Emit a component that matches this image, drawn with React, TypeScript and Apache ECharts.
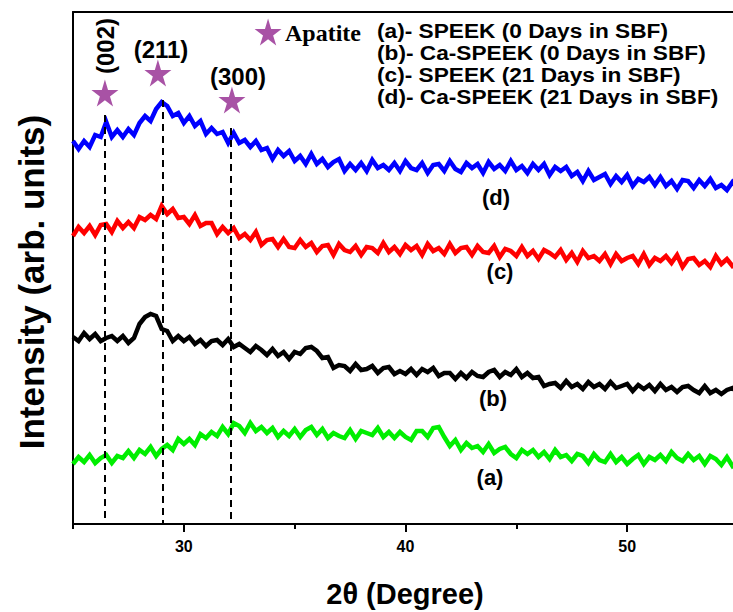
import React, { useEffect, useRef } from 'react';
import * as echarts from 'echarts';

// 2θ sampling positions (degrees)
const twoTheta: number[] = Array.from({ length: 121 }, (_, i) => 25 + i * 0.25);

// (a) SPEEK 0 days (green)
const seriesA = [
  60, 67, 62, 69, 61, 66, 69, 61, 68, 66,
  73, 66, 74, 70, 77, 68, 75, 79, 74, 85,
  80, 85, 79, 90, 86, 92, 88, 97, 90, 101,
  98, 91, 101, 93, 97, 91, 96, 87, 93, 88,
  95, 87, 94, 97, 89, 95, 86, 91, 88, 86,
  94, 85, 93, 91, 89, 96, 87, 92, 86, 92,
  87, 84, 93, 93, 87, 96, 97, 87, 78, 84,
  74, 81, 76, 78, 72, 80, 71, 75, 77, 70,
  66, 74, 70, 74, 67, 72, 65, 74, 67, 69,
  63, 70, 68, 61, 70, 64, 62, 70, 62, 67,
  60, 65, 69, 60, 67, 64, 69, 63, 72, 66,
  63, 70, 64, 68, 60, 68, 65, 59, 67, 58,
  62,
];

// (b) Ca-SPEEK 0 days (black)
const seriesB = [
  187, 183, 191, 185, 190, 183, 186, 188, 183, 188,
  181, 186, 200, 207, 210, 208, 195, 193, 183, 188,
  183, 187, 180, 184, 178, 183, 184, 179, 185, 177,
  180, 176, 172, 178, 174, 169, 175, 168, 172, 165,
  172, 170, 176, 177, 173, 166, 167, 156, 159, 158,
  153, 160, 154, 155, 158, 151, 156, 157, 150, 153,
  150, 155, 149, 155, 152, 156, 148, 151, 151, 145,
  151, 146, 152, 148, 147, 152, 154, 147, 152, 149,
  155, 147, 151, 146, 147, 138, 140, 141, 136, 143,
  137, 140, 135, 142, 137, 140, 135, 142, 136, 138,
  140, 133, 139, 135, 139, 133, 140, 134, 137, 132,
  137, 138, 134, 131, 138, 131, 134, 130, 134, 136,
  131,
];

// (c) SPEEK 21 days (red)
const seriesC = [
  288, 297, 291, 298, 289, 299, 300, 292, 303, 296,
  302, 296, 307, 304, 309, 305, 318, 310, 315, 306,
  307, 300, 309, 298, 301, 301, 290, 297, 291, 296,
  286, 290, 284, 292, 279, 284, 285, 277, 285, 277,
  276, 284, 277, 281, 272, 278, 279, 269, 280, 274,
  272, 278, 269, 277, 276, 271, 281, 272, 277, 270,
  279, 274, 278, 269, 280, 273, 276, 270, 280, 271,
  276, 277, 269, 278, 272, 271, 278, 267, 275, 273,
  268, 277, 268, 273, 265, 274, 271, 267, 274, 264,
  271, 262, 273, 266, 268, 263, 270, 260, 270, 263,
  266, 268, 260, 270, 259, 266, 263, 268, 261, 269,
  257, 265, 266, 259, 263, 257, 268, 260, 265, 258,
  261,
];

// (d) Ca-SPEEK 21 days (blue)
const seriesD = [
  383, 375, 383, 377, 389, 387, 402, 387, 394, 387,
  395, 389, 401, 408, 403, 415, 422, 418, 408, 411,
  401, 408, 398, 403, 390, 396, 390, 392, 381, 391,
  381, 384, 377, 383, 374, 376, 365, 374, 368, 373,
  363, 368, 360, 370, 360, 365, 357, 362, 365, 353,
  360, 354, 361, 353, 364, 356, 359, 354, 361, 353,
  363, 356, 354, 361, 351, 359, 360, 353, 363, 355,
  352, 361, 356, 360, 351, 362, 355, 359, 353, 363,
  354, 358, 351, 360, 354, 360, 349, 357, 353, 357,
  348, 352, 343, 353, 344, 347, 350, 340, 348, 342,
  349, 338, 345, 342, 347, 339, 347, 338, 343, 335,
  344, 343, 336, 344, 338, 345, 336, 339, 334, 342,
  336,
];

const seriesNames = ['(a)', '(b)', '(c)', '(d)'];
const seriesColors = ['#00EE00', '#000000', '#FF0000', '#0000FF'];

// Apatite reflections: dashed line positions, tops, star markers
const peakLabels = ['(002)', '(211)', '(300)'];
const peakAngles = [26.41, 29.05, 32.1];
const peakTops = [409, 424, 396];
const starPoints = [
  [26.44, 431],
  [28.83, 451],
  [32.17, 424],
];
const apatiteStar = [[33.8, 492]];

const legendLines = [
  '(a)- SPEEK (0 Days in SBF)',
  '(b)- Ca-SPEEK (0 Days in SBF)',
  '(c)- SPEEK (21 Days in SBF)',
  '(d)- Ca-SPEEK (21 Days in SBF)',
];

const xMajorTicks = [30, 40, 50];
const xMinorTicks = [25, 35, 45, 55];

const SANS = '"Liberation Sans", Arial, Helvetica, sans-serif';
const SERIF = '"Liberation Serif", "Times New Roman", serif';
const STAR = 'path://M50,0 L61,35 L98,35 L68,57 L79,91 L50,70 L21,91 L32,57 L2,35 L39,35 Z';
const PURPLE = '#92278F';

export default function App() {
  const ref = useRef<HTMLDivElement>(null);

  useEffect(() => {
    if (!ref.current) return;
    const chart = echarts.init(ref.current, null, { renderer: 'svg' });

    const allSeries = [seriesA, seriesB, seriesC, seriesD];
    const lineSeries = allSeries.map((vals, si) => ({
      name: seriesNames[si],
      type: 'line',
      xAxisIndex: 0,
      yAxisIndex: 0,
      showSymbol: false,
      symbol: 'none',
      data: twoTheta.map((t, i) => [t, vals[i]]),
      lineStyle: { color: seriesColors[si], width: 4.5, join: 'miter' },
      itemStyle: { color: seriesColors[si] },
      z: 2,
    }));

    const curveLabelPos = [
      [490, 477],
      [493, 398],
      [500, 271],
      [496, 197],
    ];

    const option: any = {
      animation: false,
      backgroundColor: '#ffffff',
      grid: {
        left: 73,
        top: 12,
        right: -5,
        bottom: 88,
        containLabel: false,
        outerBoundsMode: 'none',
        show: false,
      },
      xAxis: [
        {
          type: 'value',
          min: 25,
          max: 55,
          position: 'bottom',
          axisLine: { show: true, onZero: false, lineStyle: { color: '#000', width: 2 } },
          axisTick: {
            show: true,
            customValues: xMajorTicks,
            length: 8,
            inside: false,
            lineStyle: { color: '#000', width: 2 },
          },
          axisLabel: {
            show: true,
            customValues: xMajorTicks,
            margin: 14,
            fontSize: 16,
            fontWeight: 'bold',
            color: '#000',
            fontFamily: SANS,
          },
          splitLine: { show: false },
        },
        {
          type: 'value',
          min: 25,
          max: 55,
          position: 'bottom',
          axisLine: { show: false },
          axisTick: {
            show: true,
            customValues: xMinorTicks,
            length: 5,
            inside: false,
            lineStyle: { color: '#000', width: 2 },
          },
          axisLabel: { show: false },
          splitLine: { show: false },
        },
        {
          type: 'value',
          min: 25,
          max: 55,
          position: 'top',
          axisLine: { show: true, onZero: false, lineStyle: { color: '#000', width: 2 } },
          axisTick: { show: false },
          axisLabel: { show: false },
          splitLine: { show: false },
        },
      ],
      yAxis: {
        type: 'value',
        min: 0,
        max: 512,
        axisLine: { show: true, onZero: false, lineStyle: { color: '#000', width: 2 } },
        axisTick: { show: false },
        axisLabel: { show: false },
        splitLine: { show: false },
      },
      series: [
        ...lineSeries,
        {
          name: 'Apatite',
          type: 'scatter',
          xAxisIndex: 0,
          yAxisIndex: 0,
          symbol: STAR,
          symbolSize: 27,
          itemStyle: { color: PURPLE },
          data: starPoints,
          z: 5,
          markLine: {
            silent: true,
            symbol: ['none', 'none'],
            label: { show: false },
            lineStyle: { color: '#000', width: 2, type: [7, 5] },
            data: peakAngles.map((a, i) => [
              { coord: [a, peakTops[i]] },
              { coord: [a, 0] },
            ]),
          },
        },
        {
          name: 'ApatiteKey',
          type: 'scatter',
          xAxisIndex: 0,
          yAxisIndex: 0,
          symbol: STAR,
          symbolSize: 27,
          itemStyle: { color: PURPLE },
          data: apatiteStar,
          z: 5,
        },
      ],
      graphic: [
        {
          type: 'text',
          x: 31,
          y: 282,
          rotation: Math.PI / 2,
          style: {
            text: 'Intensity (arb. units)',
            font: `bold 35px ${SANS}`,
            fill: '#000',
            align: 'center',
            verticalAlign: 'middle',
          },
        },
        {
          type: 'text',
          x: 405,
          y: 594,
          style: {
            text: '2θ (Degree)',
            font: `bold 29px ${SANS}`,
            fill: '#000',
            align: 'center',
            verticalAlign: 'middle',
          },
        },
        {
          type: 'text',
          x: 105,
          y: 46,
          rotation: Math.PI / 2,
          style: {
            text: peakLabels[0],
            font: `bold 24px ${SANS}`,
            fill: '#000',
            align: 'center',
            verticalAlign: 'middle',
          },
        },
        {
          type: 'text',
          x: 161,
          y: 49,
          style: {
            text: peakLabels[1],
            font: `bold 24px ${SANS}`,
            fill: '#000',
            align: 'center',
            verticalAlign: 'middle',
          },
        },
        {
          type: 'text',
          x: 238,
          y: 76,
          style: {
            text: peakLabels[2],
            font: `bold 24px ${SANS}`,
            fill: '#000',
            align: 'center',
            verticalAlign: 'middle',
          },
        },
        {
          type: 'text',
          x: 285,
          y: 33,
          style: {
            text: 'Apatite',
            font: `bold 24px ${SERIF}`,
            fill: '#000',
            align: 'left',
            verticalAlign: 'middle',
          },
        },
        ...legendLines.map((t, i) => ({
          type: 'text',
          x: 377,
          y: 31 + i * 22,
          scaleX: 1.08,
          style: {
            text: t,
            font: `bold 21px ${SANS}`,
            fill: '#000',
            align: 'left',
            verticalAlign: 'middle',
          },
        })),
        ...seriesNames.map((n, i) => ({
          type: 'text',
          x: curveLabelPos[i][0],
          y: curveLabelPos[i][1],
          style: {
            text: n,
            font: `bold 22px ${SANS}`,
            fill: '#000',
            align: 'center',
            verticalAlign: 'middle',
          },
        })),
      ],
    };

    chart.setOption(option);
    return () => {
      chart.dispose();
    };
  }, []);

  return (
    <div
      ref={ref}
      style={{ position: 'fixed', left: 0, top: 0, width: 733, height: 612, background: '#fff' }}
    />
  );
}
